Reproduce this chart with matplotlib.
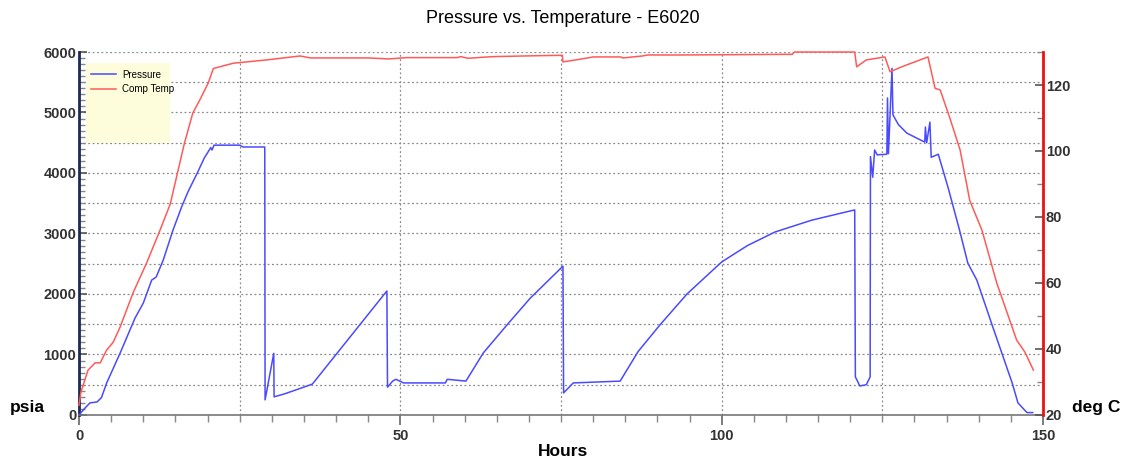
import matplotlib
matplotlib.use("Agg")
import matplotlib.pyplot as plt
from matplotlib.patches import Rectangle
from matplotlib.ticker import MultipleLocator

plt.rcParams["font.family"] = ["Liberation Sans", "DejaVu Sans"]

# ---------------- data ----------------
hours_p = [0, 0.8, 1.7, 2.8, 3.5, 4.3, 6.4, 8.7, 10.0, 11.3, 12.0, 13.1, 14.6, 16.0, 17.0,
           18.4, 19.5, 20.5, 20.7, 21.0, 25.0, 25.5, 28.9, 28.95, 30.3, 30.35, 32.0,
           36.3, 47.9, 48.0, 48.8, 49.3, 50.5, 57.0, 57.3, 60.2, 62.9, 66.6, 70.2, 75.3,
           75.35, 75.4, 76.9, 84.2, 87.0, 90.4, 94.6, 100.0, 104.0, 108.3, 114.0,
           120.7, 120.8, 121.5, 122.5, 123.1, 123.15, 123.5, 123.8, 124.2, 125.7,
           125.8, 125.95, 126.5, 126.65, 127.5, 128.8, 131.6, 131.7, 131.9, 132.4,
           132.6, 133.7, 135.2, 137.0, 138.3, 139.7, 142.2, 145.2, 146.1, 147.5, 148.4]
pressure = [0, 100, 200, 215, 290, 530, 1025, 1600, 1850, 2230, 2280, 2560, 3050, 3450, 3700,
            4000, 4250, 4420, 4380, 4460, 4460, 4430, 4430, 250, 1020, 300, 350,
            510, 2050, 460, 560, 590, 530, 530, 590, 560, 1025, 1490, 1930, 2460,
            1400, 365, 530, 560, 1050, 1490, 2000, 2530, 2800, 3025, 3220,
            3390, 630, 480, 500, 630, 4270, 3930, 4380, 4300, 4310,
            5240, 4320, 5730, 4960, 4800, 4660, 4510, 4760, 4500, 4840,
            4260, 4310, 3770, 3060, 2510, 2230, 1450, 530, 200, 40, 40]

hours_t = [0, 0.3, 1.4, 2.5, 3.3, 4.3, 5.3, 6.4, 8.4, 10.5, 12.6, 14.2, 16.4, 17.7,
           18.8, 20.1, 20.9, 24.0, 29.2, 34.4, 36.0, 45.0, 48.2, 51.0, 58.8, 59.4,
           60.5, 64.4, 71.9, 75.2, 75.3, 77.6, 80.0, 84.3, 84.6, 87.7, 88.5, 93.8,
           111.0, 111.3, 120.7, 121.0, 122.5, 125.4, 126.2, 128.0, 132.1, 133.2,
           134.0, 135.5, 137.1, 138.6, 140.5, 142.8, 145.9, 147.2, 148.5]
temp = [23, 27, 33.6, 35.8, 35.8, 39.7, 42, 46.7, 57, 66, 76, 84, 102.4, 111.5,
        115.5, 120.6, 125, 126.6, 127.6, 128.8, 128.2, 128.2, 127.9, 128.3, 128.3, 128.6,
        128.1, 128.6, 128.9, 129.0, 127.0, 127.7, 128.5, 128.5, 128.2, 128.8, 129.1, 129.1,
        129.3, 130.0, 130.0, 125.5, 127.6, 128.5, 124.0, 125.5, 128.5, 119.0,
        118.5, 110.0, 100.3, 85.0, 76.0, 60.0, 42.7, 39.0, 33.6]

title = "Pressure vs. Temperature - E6020"
left_ticks = [0, 1000, 2000, 3000, 4000, 5000, 6000]
right_ticks = [20, 40, 60, 80, 100, 120]
x_ticks = [0, 50, 100, 150]

# ---------------- figure ----------------
fig = plt.figure(figsize=(11.26, 4.61), dpi=100)
ax = fig.add_axes([0.0702, 0.0998, 0.8561, 0.7874])
ax2 = ax.twinx()

blue = "#4a4aff"
red = "#ff5a5a"
ax.plot(hours_p, pressure, color=blue, lw=1.1, label="Pressure", zorder=3)
ax2.plot(hours_t, temp, color=red, lw=1.1, label="Comp Temp", zorder=3, clip_on=False)

ax.set_xlim(0, 150)
ax.set_ylim(0, 6000)
ax2.set_ylim(20, 130)

ax.set_xticks(x_ticks)
ax.xaxis.set_minor_locator(MultipleLocator(5))
ax.set_yticks(left_ticks)
ax.yaxis.set_minor_locator(MultipleLocator(100))
ax2.set_yticks(right_ticks)
ax2.yaxis.set_minor_locator(MultipleLocator(10))

# grid
for v in range(500, 6001, 500):
    ax.axhline(v, color="#8a8a8a", lw=0.9, ls=(0, (1.5, 2)), zorder=1)
for v in [25, 50, 75, 100, 125]:
    ax.axvline(v, color="#8a8a8a", lw=0.9, ls=(0, (1.5, 2)), zorder=1)

ax.tick_params(axis="x", which="major", direction="out", length=7, width=1.2, color="#666666", pad=3)
ax.tick_params(axis="x", which="minor", direction="out", length=5, width=1, color="#888888")
ax.tick_params(axis="y", which="major", direction="in", length=6, width=1.2, color="#555555", pad=2)
ax.tick_params(axis="y", which="minor", direction="in", length=4, width=1, color="#888888")
ax2.tick_params(axis="y", which="major", direction="in", length=6, width=1.2, color="#555555", pad=2)
ax2.tick_params(axis="y", which="minor", direction="in", length=4, width=1, color="#888888")
for lab in ax.get_xticklabels() + ax.get_yticklabels() + ax2.get_yticklabels():
    lab.set_fontsize(10.5)
    lab.set_fontweight("bold")
    lab.set_color("#333333")

for a in (ax, ax2):
    a.spines["top"].set_visible(False)
ax.spines["right"].set_visible(False)
ax2.spines["left"].set_visible(False)
ax2.spines["bottom"].set_visible(False)
ax.spines["left"].set_color("#1c2a55")
ax.spines["left"].set_linewidth(2)
ax.spines["bottom"].set_color("#777777")
ax.spines["bottom"].set_linewidth(1.2)
ax2.spines["right"].set_color("#ee1111")
ax2.spines["right"].set_linewidth(2)

# legend box
ax.add_patch(Rectangle((0.0073, 0.749), 0.087, 0.221, transform=ax.transAxes,
                       facecolor="#fdfddc", edgecolor="none", zorder=4))
h1, l1 = ax.get_legend_handles_labels()
h2, l2 = ax2.get_legend_handles_labels()
leg = ax2.legend(h1 + h2, l1 + l2, loc="upper left", bbox_to_anchor=(0.005, 0.97),
                 frameon=False, fontsize=7, handlelength=2.6, handletextpad=0.6,
                 labelspacing=0.45, borderaxespad=0.3)
leg.set_zorder(5)

fig.text(0.5, 0.96, title, ha="center", va="center", fontsize=13)
fig.text(0.5, 0.02, "Hours", ha="center", va="center", fontsize=12.5, fontweight="bold")
fig.text(0.009, 0.115, "psia", ha="left", va="center", fontsize=12.5, fontweight="bold")
fig.text(0.952, 0.115, "deg C", ha="left", va="center", fontsize=12.5, fontweight="bold")

fig.savefig("out.png", dpi=100)
